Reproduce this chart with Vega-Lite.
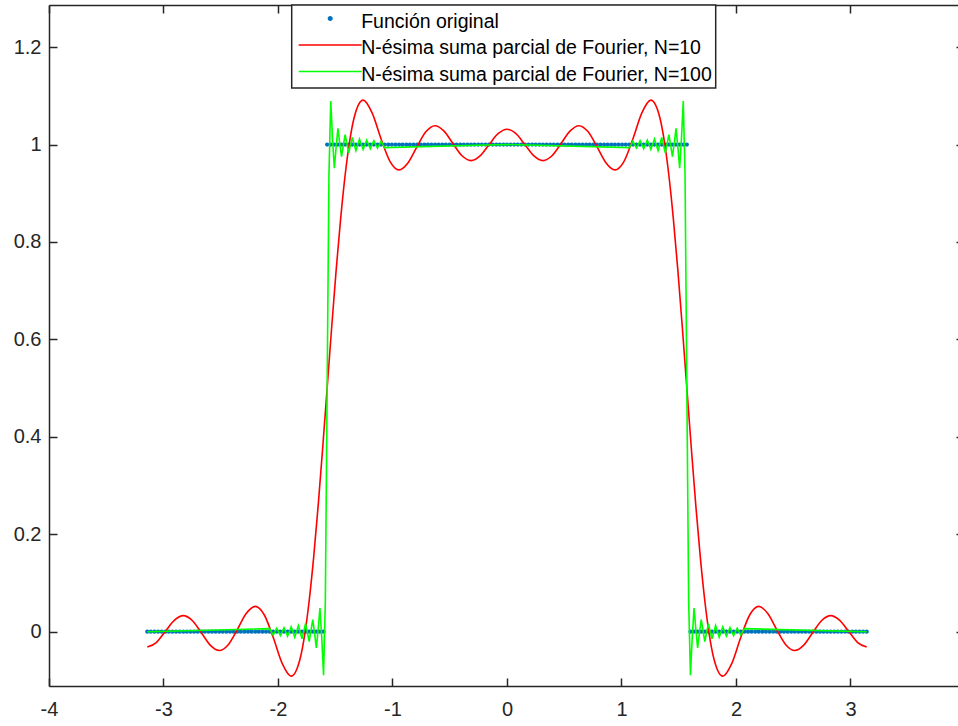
{
  "$schema": "https://vega.github.io/schema/vega-lite/v6.json",
  "autosize": {"type": "none"},
  "padding": {"left": 49, "top": 5, "right": 0, "bottom": 40},
  "width": 909,
  "height": 681,
  "background": "white",
  "config": {
    "view": {"stroke": null},
    "font": "Liberation Sans",
    "axis": {
      "domainColor": "#262626", "domainWidth": 1.5,
      "tickColor": "#262626", "tickWidth": 1.5,
      "labelColor": "#262626", "labelFont": "Liberation Sans", "labelFontSize": 20,
      "grid": false, "title": null, "labelFlush": false, "labelOverlap": false
    }
  },
  "datasets": {
    "orig": [
      {"x":-3.1416,"y":0},{"x":-3.1102,"y":0},{"x":-3.0788,"y":0},{"x":-3.0473,"y":0},{"x":-3.0159,"y":0},{"x":-2.9845,"y":0},{"x":-2.9531,"y":0},{"x":-2.9217,"y":0},{"x":-2.8903,"y":0},{"x":-2.8588,"y":0},
      {"x":-2.8274,"y":0},{"x":-2.7960,"y":0},{"x":-2.7646,"y":0},{"x":-2.7332,"y":0},{"x":-2.7018,"y":0},{"x":-2.6704,"y":0},{"x":-2.6389,"y":0},{"x":-2.6075,"y":0},{"x":-2.5761,"y":0},{"x":-2.5447,"y":0},
      {"x":-2.5133,"y":0},{"x":-2.4819,"y":0},{"x":-2.4504,"y":0},{"x":-2.4190,"y":0},{"x":-2.3876,"y":0},{"x":-2.3562,"y":0},{"x":-2.3248,"y":0},{"x":-2.2934,"y":0},{"x":-2.2619,"y":0},{"x":-2.2305,"y":0},
      {"x":-2.1991,"y":0},{"x":-2.1677,"y":0},{"x":-2.1363,"y":0},{"x":-2.1049,"y":0},{"x":-2.0735,"y":0},{"x":-2.0420,"y":0},{"x":-2.0106,"y":0},{"x":-1.9792,"y":0},{"x":-1.9478,"y":0},{"x":-1.9164,"y":0},
      {"x":-1.8850,"y":0},{"x":-1.8535,"y":0},{"x":-1.8221,"y":0},{"x":-1.7907,"y":0},{"x":-1.7593,"y":0},{"x":-1.7279,"y":0},{"x":-1.6965,"y":0},{"x":-1.6650,"y":0},{"x":-1.6336,"y":0},{"x":-1.6022,"y":0},
      {"x":-1.5708,"y":1},{"x":-1.5394,"y":1},{"x":-1.5080,"y":1},{"x":-1.4765,"y":1},{"x":-1.4451,"y":1},{"x":-1.4137,"y":1},{"x":-1.3823,"y":1},{"x":-1.3509,"y":1},{"x":-1.3195,"y":1},{"x":-1.2881,"y":1},
      {"x":-1.2566,"y":1},{"x":-1.2252,"y":1},{"x":-1.1938,"y":1},{"x":-1.1624,"y":1},{"x":-1.1310,"y":1},{"x":-1.0996,"y":1},{"x":-1.0681,"y":1},{"x":-1.0367,"y":1},{"x":-1.0053,"y":1},{"x":-0.9739,"y":1},
      {"x":-0.9425,"y":1},{"x":-0.9111,"y":1},{"x":-0.8796,"y":1},{"x":-0.8482,"y":1},{"x":-0.8168,"y":1},{"x":-0.7854,"y":1},{"x":-0.7540,"y":1},{"x":-0.7226,"y":1},{"x":-0.6912,"y":1},{"x":-0.6597,"y":1},
      {"x":-0.6283,"y":1},{"x":-0.5969,"y":1},{"x":-0.5655,"y":1},{"x":-0.5341,"y":1},{"x":-0.5027,"y":1},{"x":-0.4712,"y":1},{"x":-0.4398,"y":1},{"x":-0.4084,"y":1},{"x":-0.3770,"y":1},{"x":-0.3456,"y":1},
      {"x":-0.3142,"y":1},{"x":-0.2827,"y":1},{"x":-0.2513,"y":1},{"x":-0.2199,"y":1},{"x":-0.1885,"y":1},{"x":-0.1571,"y":1},{"x":-0.1257,"y":1},{"x":-0.0942,"y":1},{"x":-0.0628,"y":1},{"x":-0.0314,"y":1},
      {"x":0,"y":1},
      {"x":0.0314,"y":1},{"x":0.0628,"y":1},{"x":0.0942,"y":1},{"x":0.1257,"y":1},{"x":0.1571,"y":1},{"x":0.1885,"y":1},{"x":0.2199,"y":1},{"x":0.2513,"y":1},{"x":0.2827,"y":1},{"x":0.3142,"y":1},
      {"x":0.3456,"y":1},{"x":0.3770,"y":1},{"x":0.4084,"y":1},{"x":0.4398,"y":1},{"x":0.4712,"y":1},{"x":0.5027,"y":1},{"x":0.5341,"y":1},{"x":0.5655,"y":1},{"x":0.5969,"y":1},{"x":0.6283,"y":1},
      {"x":0.6597,"y":1},{"x":0.6912,"y":1},{"x":0.7226,"y":1},{"x":0.7540,"y":1},{"x":0.7854,"y":1},{"x":0.8168,"y":1},{"x":0.8482,"y":1},{"x":0.8796,"y":1},{"x":0.9111,"y":1},{"x":0.9425,"y":1},
      {"x":0.9739,"y":1},{"x":1.0053,"y":1},{"x":1.0367,"y":1},{"x":1.0681,"y":1},{"x":1.0996,"y":1},{"x":1.1310,"y":1},{"x":1.1624,"y":1},{"x":1.1938,"y":1},{"x":1.2252,"y":1},{"x":1.2566,"y":1},
      {"x":1.2881,"y":1},{"x":1.3195,"y":1},{"x":1.3509,"y":1},{"x":1.3823,"y":1},{"x":1.4137,"y":1},{"x":1.4451,"y":1},{"x":1.4765,"y":1},{"x":1.5080,"y":1},{"x":1.5394,"y":1},{"x":1.5708,"y":1},
      {"x":1.6022,"y":0},{"x":1.6336,"y":0},{"x":1.6650,"y":0},{"x":1.6965,"y":0},{"x":1.7279,"y":0},{"x":1.7593,"y":0},{"x":1.7907,"y":0},{"x":1.8221,"y":0},{"x":1.8535,"y":0},{"x":1.8850,"y":0},
      {"x":1.9164,"y":0},{"x":1.9478,"y":0},{"x":1.9792,"y":0},{"x":2.0106,"y":0},{"x":2.0420,"y":0},{"x":2.0735,"y":0},{"x":2.1049,"y":0},{"x":2.1363,"y":0},{"x":2.1677,"y":0},{"x":2.1991,"y":0},
      {"x":2.2305,"y":0},{"x":2.2619,"y":0},{"x":2.2934,"y":0},{"x":2.3248,"y":0},{"x":2.3562,"y":0},{"x":2.3876,"y":0},{"x":2.4190,"y":0},{"x":2.4504,"y":0},{"x":2.4819,"y":0},{"x":2.5133,"y":0},
      {"x":2.5447,"y":0},{"x":2.5761,"y":0},{"x":2.6075,"y":0},{"x":2.6389,"y":0},{"x":2.6704,"y":0},{"x":2.7018,"y":0},{"x":2.7332,"y":0},{"x":2.7646,"y":0},{"x":2.7960,"y":0},{"x":2.8274,"y":0},
      {"x":2.8588,"y":0},{"x":2.8903,"y":0},{"x":2.9217,"y":0},{"x":2.9531,"y":0},{"x":2.9845,"y":0},{"x":3.0159,"y":0},{"x":3.0473,"y":0},{"x":3.0788,"y":0},{"x":3.1102,"y":0},{"x":3.1416,"y":0}
    ],
    "n10": [
      {"x":-3.1416,"y":-0.0315},{"x":-3.0631,"y":-0.0222},{"x":-2.9845,"y":0.0005},{"x":-2.9060,"y":0.0234},{"x":-2.8274,"y":0.0331},{"x":-2.7489,"y":0.0231},{"x":-2.6704,"y":-0.0017},{"x":-2.5918,"y":-0.0275},
      {"x":-2.5133,"y":-0.0386},{"x":-2.4347,"y":-0.0266},{"x":-2.3562,"y":0.0041},{"x":-2.2777,"y":0.0372},{"x":-2.1991,"y":0.0520},{"x":-2.1206,"y":0.0349},{"x":-2.0420,"y":-0.0114},{"x":-1.9635,"y":-0.0650},
      {"x":-1.8850,"y":-0.0912},{"x":-1.8064,"y":-0.0550},{"x":-1.7671,"y":-0.0065},{"x":-1.7279,"y":0.0631},{"x":-1.6886,"y":0.1525},{"x":-1.6493,"y":0.2583},{"x":-1.6101,"y":0.3760},{"x":-1.5708,"y":0.5},
      {"x":-1.5315,"y":0.6240},{"x":-1.4923,"y":0.7417},{"x":-1.4530,"y":0.8475},{"x":-1.4137,"y":0.9369},{"x":-1.3744,"y":1.0065},{"x":-1.3352,"y":1.0550},{"x":-1.2566,"y":1.0912},{"x":-1.1781,"y":1.0650},
      {"x":-1.0996,"y":1.0114},{"x":-1.0210,"y":0.9651},{"x":-0.9425,"y":0.9480},{"x":-0.8639,"y":0.9628},{"x":-0.7854,"y":0.9959},{"x":-0.7069,"y":1.0266},{"x":-0.6283,"y":1.0386},{"x":-0.5498,"y":1.0275},
      {"x":-0.4712,"y":1.0017},{"x":-0.3927,"y":0.9769},{"x":-0.3142,"y":0.9669},{"x":-0.2356,"y":0.9766},{"x":-0.1571,"y":0.9995},{"x":-0.0785,"y":1.0222},{"x":0,"y":1.0315},
      {"x":0.0785,"y":1.0222},{"x":0.1571,"y":0.9995},{"x":0.2356,"y":0.9766},{"x":0.3142,"y":0.9669},{"x":0.3927,"y":0.9769},{"x":0.4712,"y":1.0017},{"x":0.5498,"y":1.0275},{"x":0.6283,"y":1.0386},
      {"x":0.7069,"y":1.0266},{"x":0.7854,"y":0.9959},{"x":0.8639,"y":0.9628},{"x":0.9425,"y":0.9480},{"x":1.0210,"y":0.9651},{"x":1.0996,"y":1.0114},{"x":1.1781,"y":1.0650},{"x":1.2566,"y":1.0912},
      {"x":1.3352,"y":1.0550},{"x":1.3744,"y":1.0065},{"x":1.4137,"y":0.9369},{"x":1.4530,"y":0.8475},{"x":1.4923,"y":0.7417},{"x":1.5315,"y":0.6240},{"x":1.5708,"y":0.5},{"x":1.6101,"y":0.3760},
      {"x":1.6493,"y":0.2583},{"x":1.6886,"y":0.1525},{"x":1.7279,"y":0.0631},{"x":1.7671,"y":-0.0065},{"x":1.8064,"y":-0.0550},{"x":1.8850,"y":-0.0912},{"x":1.9635,"y":-0.0650},{"x":2.0420,"y":-0.0114},
      {"x":2.1206,"y":0.0349},{"x":2.1991,"y":0.0520},{"x":2.2777,"y":0.0372},{"x":2.3562,"y":0.0041},{"x":2.4347,"y":-0.0266},{"x":2.5133,"y":-0.0386},{"x":2.5918,"y":-0.0275},{"x":2.6704,"y":-0.0017},
      {"x":2.7489,"y":0.0231},{"x":2.8274,"y":0.0331},{"x":2.9060,"y":0.0234},{"x":2.9845,"y":0.0005},{"x":3.0631,"y":-0.0222},{"x":3.1416,"y":-0.0315}
    ],
    "n100": [
      {"x":-3.1416,"y":0},
      {"x":-2.0735,"y":0.0063},{"x":-2.0577,"y":0},{"x":-2.0420,"y":-0.0068},{"x":-2.0263,"y":0},{"x":-2.0106,"y":0.0072},{"x":-1.9949,"y":0},{"x":-1.9792,"y":-0.0078},{"x":-1.9635,"y":-0.0001},
      {"x":-1.9478,"y":0.0084},{"x":-1.9321,"y":-0.0001},{"x":-1.9164,"y":-0.0092},{"x":-1.9007,"y":-0.0002},{"x":-1.8850,"y":0.0101},{"x":-1.8692,"y":-0.0003},{"x":-1.8535,"y":-0.0112},{"x":-1.8378,"y":0.0004},
      {"x":-1.8221,"y":0.0126},{"x":-1.8064,"y":-0.0006},{"x":-1.7907,"y":-0.0144},{"x":-1.7750,"y":0.0008},{"x":-1.7593,"y":0.0168},{"x":-1.7436,"y":-0.0011},{"x":-1.7279,"y":-0.0201},{"x":-1.7122,"y":0.0016},
      {"x":-1.6965,"y":0.0250},{"x":-1.6808,"y":-0.0025},{"x":-1.6650,"y":-0.0331},{"x":-1.6493,"y":0.0048},{"x":-1.6336,"y":0.0486},{"x":-1.6179,"y":-0.0120},{"x":-1.6022,"y":-0.0895},{"x":-1.5865,"y":0.0637},
      {"x":-1.5708,"y":0.5},
      {"x":-1.5551,"y":0.9363},{"x":-1.5394,"y":1.0895},{"x":-1.5237,"y":1.0120},{"x":-1.5080,"y":0.9514},{"x":-1.4923,"y":0.9952},{"x":-1.4765,"y":1.0331},{"x":-1.4608,"y":1.0025},{"x":-1.4451,"y":0.9750},
      {"x":-1.4294,"y":0.9984},{"x":-1.4137,"y":1.0201},{"x":-1.3980,"y":1.0011},{"x":-1.3823,"y":0.9832},{"x":-1.3666,"y":0.9992},{"x":-1.3509,"y":1.0144},{"x":-1.3352,"y":1.0006},{"x":-1.3195,"y":0.9874},
      {"x":-1.3038,"y":0.9996},{"x":-1.2881,"y":1.0112},{"x":-1.2723,"y":1.0003},{"x":-1.2566,"y":0.9899},{"x":-1.2409,"y":1.0002},{"x":-1.2252,"y":1.0092},{"x":-1.2095,"y":1.0001},{"x":-1.1938,"y":0.9916},
      {"x":-1.1781,"y":1.0001},{"x":-1.1624,"y":1.0078},{"x":-1.1467,"y":1.0},{"x":-1.1310,"y":0.9928},{"x":-1.1152,"y":1.0},{"x":-1.0996,"y":1.0068},{"x":-1.0838,"y":1.0},{"x":-1.0681,"y":0.9937},
      {"x":0,"y":1},
      {"x":1.0681,"y":0.9937},{"x":1.0838,"y":1.0},{"x":1.0996,"y":1.0068},{"x":1.1152,"y":1.0},{"x":1.1310,"y":0.9928},{"x":1.1467,"y":1.0},{"x":1.1624,"y":1.0078},{"x":1.1781,"y":1.0001},
      {"x":1.1938,"y":0.9916},{"x":1.2095,"y":1.0001},{"x":1.2252,"y":1.0092},{"x":1.2409,"y":1.0002},{"x":1.2566,"y":0.9899},{"x":1.2723,"y":1.0003},{"x":1.2881,"y":1.0112},{"x":1.3038,"y":0.9996},
      {"x":1.3195,"y":0.9874},{"x":1.3352,"y":1.0006},{"x":1.3509,"y":1.0144},{"x":1.3666,"y":0.9992},{"x":1.3823,"y":0.9832},{"x":1.3980,"y":1.0011},{"x":1.4137,"y":1.0201},{"x":1.4294,"y":0.9984},
      {"x":1.4451,"y":0.9750},{"x":1.4608,"y":1.0025},{"x":1.4765,"y":1.0331},{"x":1.4923,"y":0.9952},{"x":1.5080,"y":0.9514},{"x":1.5237,"y":1.0120},{"x":1.5394,"y":1.0895},{"x":1.5551,"y":0.9363},
      {"x":1.5708,"y":0.5},
      {"x":1.5865,"y":0.0637},{"x":1.6022,"y":-0.0895},{"x":1.6179,"y":-0.0120},{"x":1.6336,"y":0.0486},{"x":1.6493,"y":0.0048},{"x":1.6650,"y":-0.0331},{"x":1.6808,"y":-0.0025},{"x":1.6965,"y":0.0250},
      {"x":1.7122,"y":0.0016},{"x":1.7279,"y":-0.0201},{"x":1.7436,"y":-0.0011},{"x":1.7593,"y":0.0168},{"x":1.7750,"y":0.0008},{"x":1.7907,"y":-0.0144},{"x":1.8064,"y":-0.0006},{"x":1.8221,"y":0.0126},
      {"x":1.8378,"y":0.0004},{"x":1.8535,"y":-0.0112},{"x":1.8692,"y":-0.0003},{"x":1.8850,"y":0.0101},{"x":1.9007,"y":-0.0002},{"x":1.9164,"y":-0.0092},{"x":1.9321,"y":-0.0001},{"x":1.9478,"y":0.0084},
      {"x":1.9635,"y":-0.0001},{"x":1.9792,"y":-0.0078},{"x":1.9949,"y":0},{"x":2.0106,"y":0.0072},{"x":2.0263,"y":0},{"x":2.0420,"y":-0.0068},{"x":2.0577,"y":0},{"x":2.0735,"y":0.0063},
      {"x":3.1416,"y":0}
    ]
  },
  "resolve": {"axis": {"x": "independent", "y": "independent"}},
  "layer": [
    {
      "data": {"name": "orig"},
      "mark": {"type": "point", "filled": true, "size": 18, "opacity": 1},
      "encoding": {
        "x": {
          "field": "x", "type": "quantitative",
          "scale": {"domain": [-4, 3.939], "nice": false, "zero": false},
          "axis": {"orient": "bottom", "values": [-4, -3, -2, -1, 0, 1, 2, 3], "tickSize": -8, "labelPadding": 21, "labelExpr": "'' + datum.value"}
        },
        "y": {
          "field": "y", "type": "quantitative",
          "scale": {"domain": [-0.1114, 1.2864], "nice": false, "zero": false},
          "axis": {"orient": "left", "values": [0, 0.2, 0.4, 0.6, 0.8, 1, 1.2], "tickSize": -8, "labelPadding": 16, "labelExpr": "'' + datum.value"}
        },
        "color": {
          "datum": "\u00a0Función original", "type": "nominal",
          "scale": {
            "domain": ["\u00a0Función original", "N-ésima suma parcial de Fourier, N=10", "N-ésima suma parcial de Fourier, N=100"],
            "range": ["#0072BD", "#FF0000", "#00FF00"]
          },
          "legend": {
            "orient": "none", "legendX": 242.7, "legendY": 0,
            "title": null,
            "fillColor": "white", "strokeColor": "#262626",
            "padding": 3.5,
            "symbolSize": 324, "symbolType": "M-3.5,0H3.5", "symbolStrokeWidth": 1.6,
            "symbolOffset": 25,
            "labelFont": "Liberation Sans", "labelFontSize": 19.5, "labelColor": "#000000", "labelOffset": 21, "labelLimit": 0,
            "rowPadding": 3.5,
            "encoding": {
              "legend": {"strokeWidth": {"value": 1.5}},
              "labels": {"dy": {"value": 3}},
              "symbols": {
                "shape": {"value": {"expr": "datum.index === 0 ? 'circle' : 'M-3.5,0H3.5'"}},
                "size": {"value": {"expr": "datum.index === 0 ? 12 : 324"}},
                "fill": {"value": {"expr": "datum.index === 0 ? '#0072BD' : 'transparent'"}},
                "stroke": {"value": {"expr": "datum.index === 0 ? 'transparent' : (datum.index === 1 ? '#FF0000' : '#00FF00')"}},
                "strokeWidth": {"value": 1.6},
                "opacity": {"value": 1}
              }
            }
          }
        }
      }
    },
    {
      "data": {"name": "n10"},
      "mark": {"type": "line", "strokeWidth": 1.6, "interpolate": "monotone"},
      "encoding": {
        "x": {"field": "x", "type": "quantitative", "axis": {"orient": "top", "values": [-4, -3, -2, -1, 0, 1, 2, 3], "tickSize": -8, "labels": false}},
        "y": {"field": "y", "type": "quantitative", "axis": {"orient": "right", "values": [0, 0.2, 0.4, 0.6, 0.8, 1, 1.2], "tickSize": -8, "labels": false, "offset": 6}},
        "color": {"datum": "N-ésima suma parcial de Fourier, N=10", "type": "nominal"}
      }
    },
    {
      "data": {"name": "n100"},
      "mark": {"type": "line", "strokeWidth": 1.6},
      "encoding": {
        "x": {"field": "x", "type": "quantitative", "axis": null},
        "y": {"field": "y", "type": "quantitative", "axis": null},
        "color": {"datum": "N-ésima suma parcial de Fourier, N=100", "type": "nominal"}
      }
    }
  ]
}
